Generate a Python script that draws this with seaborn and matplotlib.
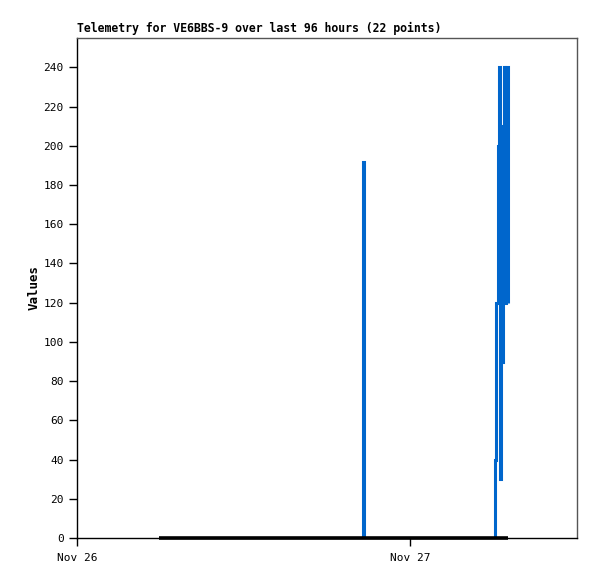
import pandas as pd
import seaborn as sns
import matplotlib
matplotlib.use('Agg')
import matplotlib.pyplot as plt
import matplotlib.dates as mdates

# hours after Nov 26 00:00
hours = [5.9, 8.0, 12.0, 15.0, 17.5, 20.55, 20.6, 20.65, 25.0, 28.0, 30.13,
         30.20, 30.29, 30.36, 30.49, 30.56, 30.61, 30.65, 30.74, 30.85, 30.92, 31.01]
blue_vals = [0, 0, 0, 0, 0, 0, 192, 0, 0, 0, 40,
             120, 200, 240, 30, 150, 90, 210, 240, 120, 240, 120]
black_vals = [0] * len(hours)

start = pd.Timestamp("2023-11-26 00:00")
times = [start + pd.Timedelta(hours=h) for h in hours]
df = pd.DataFrame({"time": times, "blue": blue_vals, "black": black_vals})

sns.set_style("white")
plt.rcParams['font.family'] = ['DejaVu Sans Mono']

fig = plt.figure(figsize=(5.97, 5.79), dpi=100)
ax = fig.add_axes([77/597, 1 - 538/579, 500/597, 500/579])

sns.lineplot(data=df, x="time", y="blue", ax=ax, color="#0066cc", linewidth=2.2,
             estimator=None, sort=False, drawstyle='steps-post',
             solid_capstyle='butt', solid_joinstyle='miter')
sns.lineplot(data=df, x="time", y="black", ax=ax, color="black", linewidth=2.6,
             estimator=None, sort=False, solid_capstyle='butt', clip_on=False)

ax.set_xlim(start, start + pd.Timedelta(hours=36))
ax.set_ylim(0, 255)
ax.set_yticks(range(0, 241, 20))
ax.xaxis.set_major_locator(mdates.DayLocator())
ax.xaxis.set_major_formatter(mdates.DateFormatter('%b %d'))
ax.tick_params(axis='both', direction='out', length=6, width=1, labelsize=8,
               bottom=True, left=True, colors='black')
ax.tick_params(axis='x', pad=5)
for s in ax.spines.values():
    s.set_color('black')
    s.set_linewidth(1)
for s in ['top', 'right']:
    ax.spines[s].set_color('#555555')

ax.set_xlabel("")
ax.set_ylabel("Values", fontsize=9, fontweight='bold', labelpad=2, color='black')
ax.set_title("Telemetry for VE6BBS-9 over last 96 hours (22 points)",
             loc='left', fontsize=8.3, fontweight='bold', pad=4, color='black')

plt.savefig("out.png", dpi=100)
plt.close('all')
